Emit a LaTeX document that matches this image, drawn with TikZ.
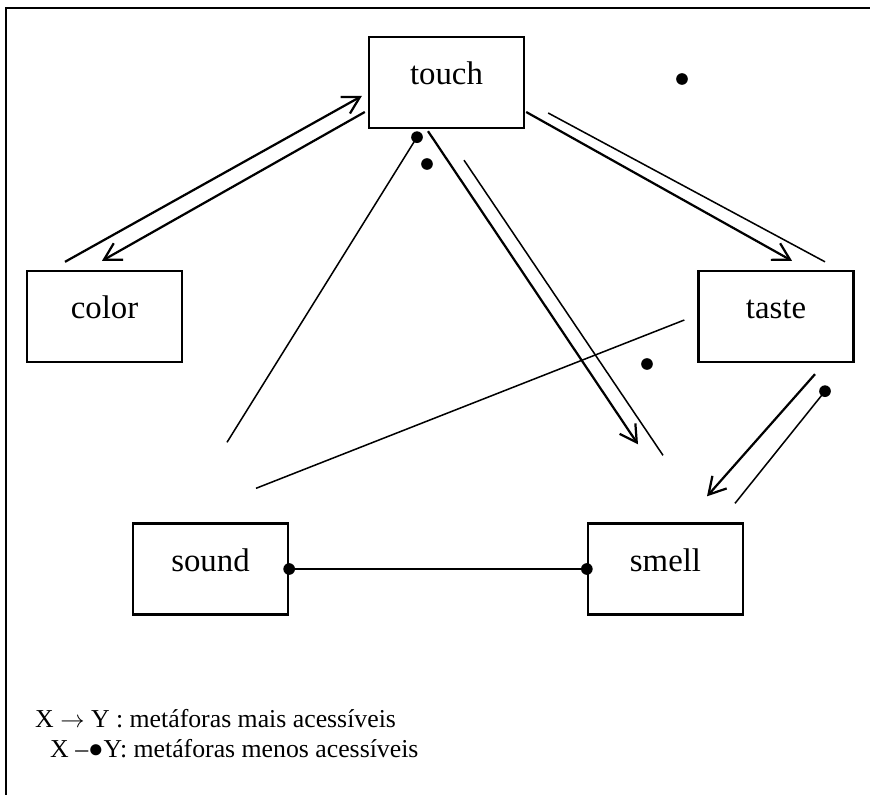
\documentclass[tikz,border=0pt]{standalone}
\usepackage{fontspec}
\setmainfont{Liberation Serif}
\usetikzlibrary{arrows.meta,calc}

\begin{document}
\begin{tikzpicture}[x=0.03cm, y=-0.03cm,
	sense/.style={draw, line width=2pt, minimum width=4.65cm, minimum height=2.73cm,
		text height=0.7em, text depth=0.3em, font=\fontsize{28}{32}\selectfont},
	post/.style={line width=1.9pt, -{Straight Barb[length=5mm, width=5.7mm]}},
	plain/.style={line width=1.3pt},
	dot/.style={circle, fill, inner sep=0pt, minimum size=3.5mm},
	legend/.style={anchor=base west, inner sep=0pt, font=\fontsize{22}{26}\selectfont}]
	\useasboundingbox (0,0) rectangle (870,795);
	\draw [line width=2pt] (870,8) -- (6,8) -- (6,795);

	\node [sense]	(Touch)	at (446.5, 82.5)	{touch};
	\node [sense]	(Color)	at (104.5, 316.5)	{color};
	\node [sense]	(Taste)	at (776, 316.5)		{taste};
	\node [sense]	(Sound)	at (210.5, 569)		{sound};
	\node [sense]	(Smell)	at (665.5, 569)		{smell};

	% touch <-> color
	\draw [post] ($(Color.north)+(-39.5,-8)$) -- ($(Touch.west)+(-6,13.5)$);
	\draw [post] ($(Touch.west)+(-3,29.5)$) -- ($(Color.north)+(-2.5,-9)$);
	% touch -> smell, touch -> taste
	\draw [post] ($(Touch.south)+(-18.5,2)$) -- ($(Smell.north)+(-27.5,-78)$);
	\draw [plain] ($(Touch.south)+(17.5,31)$) -- ($(Smell.north)+(-2.5,-67)$);
	\draw [post] ($(Touch.east)+(1,29.5)$) -- ($(Taste.north)+(16,-9)$);
	\draw [plain] ($(Touch.east)+(23,30.5)$) -- ($(Taste.north)+(49,-8)$);
	\draw [post] ($(Taste.south)+(39,11)$) -- ($(Smell.north)+(41.5,-26)$);
	% less accessible
	\draw [plain] ($(Touch.south)+(-29.5,8)$) node[dot] {} -- ($(Sound.north)+(16.5,-80)$);
	\draw [plain] ($(Taste.south)+(49,28)$) node[dot] {} -- ($(Smell.north)+(69.5,-19)$);
	\draw [plain] ($(Taste.west)+(-13,3.5)$) -- ($(Sound.north)+(45.5,-34)$);
	\draw [plain] (Sound.east) node[dot] {} -- (Smell.west) node[dot] {};

	\node [dot]	(DotA)	at (427, 164)	{};
	\node [dot]	(DotB)	at (682, 79)	{};
	\node [dot]	(DotC)	at (647, 364)	{};

	\node [legend]	(LegendMore)	at (35, 727)	{X $\rightarrow$ Y : metáforas mais acessíveis};
	\node [legend]	(LegendLess)	at (50, 757)	{X –●Y: metáforas menos acessíveis};
\end{tikzpicture}
\end{document}
